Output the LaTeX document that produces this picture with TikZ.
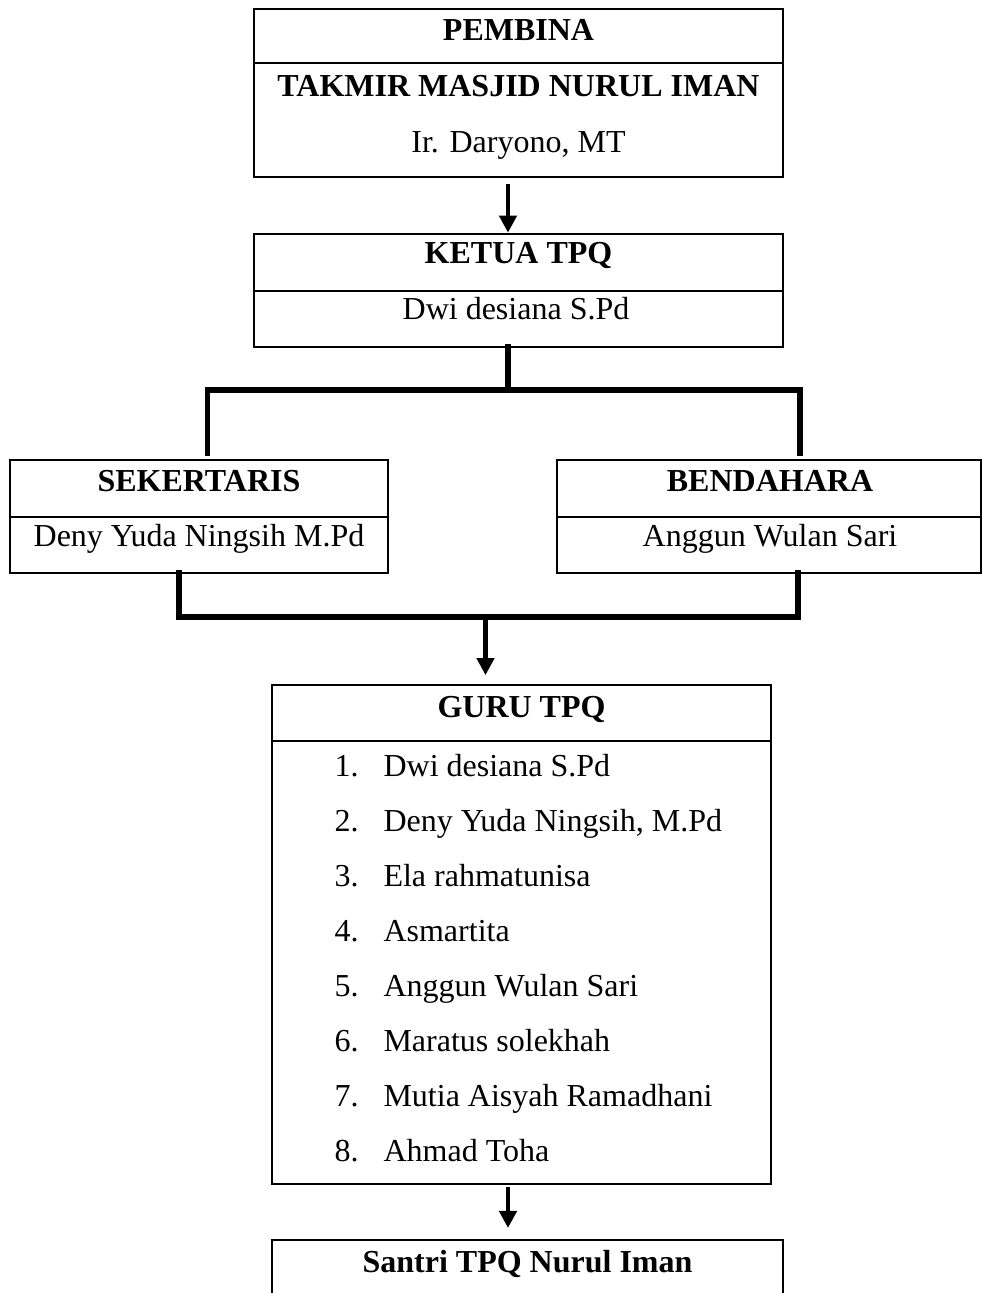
\documentclass[tikz,border=0pt]{standalone}
\usepackage{fontspec}
\setmainfont{Liberation Serif}
\usetikzlibrary{arrows.meta}
\tikzset{
  box/.style={draw, line width=0.75pt, inner sep=0pt, outer sep=0pt, rectangle},
  divline/.style={line width=0.75pt},
  lbl/.style={anchor=base, inner sep=0pt, font=\fontsize{12}{14}\selectfont},
  ttl/.style={anchor=base, inner sep=0pt, font=\fontsize{12}{14}\selectfont\bfseries},
  conn/.style={line width=2pt, line join=miter, line cap=rect},
  arr/.style={line width=1.8pt, -{Triangle[width=6.4pt,length=6.4pt]}},
}
\newcommand{\mybox}[5]{\node[box, minimum width={(#4-#2)*0.375pt}, minimum height={(#5-#3)*0.375pt}] (#1) at ({(#2+#4)/2},{(#3+#5)/2}) {};}
\begin{document}
\begin{tikzpicture}[x=0.375pt,y=-0.375pt]
\useasboundingbox (0,0) rectangle (982,1293);

% PEMBINA
\mybox{pemb}{254}{9}{783}{177}
\draw[divline] (pemb.west |- 0,63) -- (pemb.east |- 0,63);
\node[ttl] (pembt) at (518.5,41) {PEMBINA};
\node[ttl] (takmir) at (518.5,97) {TAKMIR MASJID NURUL IMAN};
\node[lbl] (daryono) at (518.5,153) {Ir. Daryono, MT};

% KETUA
\mybox{ketua}{254}{234}{783}{347}
\draw[divline] (ketua.west |- 0,291) -- (ketua.east |- 0,291);
\node[ttl] (ketuat) at (518.5,264) {KETUA TPQ};
\node[lbl] (ketuan) at (516,320) {Dwi desiana S.Pd};

\draw[arr, shorten <=2.6pt, shorten >=0.5pt] (pemb.south -| 508,0) -- (ketua.north -| 508,0);

% SEKERTARIS
\mybox{sek}{10}{460}{388}{573}
\draw[divline] (sek.west |- 0,517) -- (sek.east |- 0,517);
\node[ttl] (sekt) at (199,492) {SEKERTARIS};
\node[lbl] (sekn) at (199,547) {Deny Yuda Ningsih M.Pd};

% BENDAHARA
\mybox{bend}{557}{460}{981}{573}
\draw[divline] (bend.west |- 0,517) -- (bend.east |- 0,517);
\node[ttl] (bendt) at (770,492) {BENDAHARA};
\node[lbl] (bendn) at (770,547) {Anggun Wulan Sari};

% branch from ketua
\coordinate (j1) at (508,390);
\draw[conn] (ketua.south -| j1) -- (j1);
\draw[conn, shorten <=2.6pt, shorten >=2.6pt] (sek.north -| 207.5,0) |- (j1) -| (bend.north -| 800,0);

% GURU
\mybox{guru}{272}{685}{771}{1184}
\draw[divline] (guru.west |- 0,741) -- (guru.east |- 0,741);
\node[ttl] (gurut) at (521.5,717) {GURU TPQ};
\foreach \n/\nm [count=\i from 0] in {1/Dwi desiana S.Pd, 2/{Deny Yuda Ningsih, M.Pd}, 3/Ela rahmatunisa, 4/Asmartita, 5/Anggun Wulan Sari, 6/Maratus solekhah, 7/Mutia Aisyah Ramadhani, 8/Ahmad Toha}{
  \node[lbl, anchor=base west] (num\n) at (334,{776+55*\i}) {\n.};
  \node[lbl, anchor=base west] (item\n) at (383,{776+55*\i}) {\nm};
}

% merge to guru
\coordinate (j2) at (485.5,617);
\draw[conn] (sek.south -| 179,0) |- (j2) -| (bend.south -| 798,0);
\draw[arr, shorten >=3.7pt] (j2) -- (guru.north -| j2);

% SANTRI
\mybox{santri}{272}{1240}{783}{1330}
\node[ttl] (santrit) at (527.5,1272) {Santri TPQ Nurul Iman};
\draw[arr, shorten <=1.1pt, shorten >=4.5pt] (guru.south -| 508,0) -- (santri.north -| 508,0);

\end{tikzpicture}
\end{document}
